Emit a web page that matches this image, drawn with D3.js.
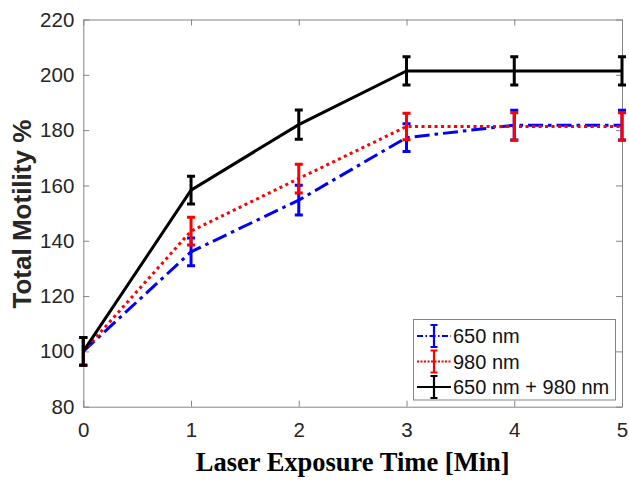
<!DOCTYPE html>
<html>
<head>
<meta charset="utf-8">
<script src="https://cdn.jsdelivr.net/npm/d3@7"></script>
<style>
  body { margin: 0; background: #fff; }
  svg { display: block; }
</style>
</head>
<body>
<div class="canvas"></div>
<script>
// data
const times = [0, 1, 2, 3, 4, 5];
const names = ['650 nm', '980 nm', '650 nm + 980 nm'];
const mean650 = [100, 136, 154.7, 177.3, 181.8, 181.8];
const err650 = [5, 5, 5.4, 5, 5.4, 5.4];
const mean980 = [100, 143.5, 162.5, 181.3, 181.3, 181.3];
const err980 = [5, 5, 5.2, 4.8, 5, 5];
const meanBoth = [100, 158.3, 182, 201.4, 201.4, 201.4];
const errBoth = [5, 5, 5.3, 5.1, 5.1, 5.1];
const yTicks = [80, 100, 120, 140, 160, 180, 200, 220];
const xTicks = [0, 1, 2, 3, 4, 5];

const series = [
    { name: names[0], mean: mean650, err: err650, color: '#0000ff', dash: '15,5,3.5,5', legDash: '6,2.5,1.5,2.5' },
    { name: names[1], mean: mean980, err: err980, color: '#ff0000', dash: '3,3.5', legDash: '2,1.5' },
    { name: names[2], mean: meanBoth, err: errBoth, color: '#000000', dash: null, legDash: null }
];

const margin = { top: 19.5, right: 7, bottom: 75.3, left: 83.3 };
const width = 629, height = 482;
const graphWidth = width - margin.left - margin.right;
const graphHeight = height - margin.top - margin.bottom;

const svg = d3.select('.canvas')
    .append('svg')
        .attr('width', width)
        .attr('height', height);

const graph = svg.append('g')
    .attr('transform', `translate(${margin.left}, ${margin.top})`);

// scales
const x = d3.scaleLinear().domain([0, 5]).range([0, graphWidth]);
const y = d3.scaleLinear().domain([80, 220]).range([graphHeight, 0]);

// axes (box with inward ticks)
const styleAxis = g => {
    g.select('.domain').attr('stroke', '#858585').attr('stroke-width', 1);
    g.selectAll('.tick line').attr('stroke', '#858585').attr('stroke-width', 1);
    g.selectAll('text')
        .attr('fill', '#262626')
        .style('font-family', '"Liberation Sans", Arial, sans-serif')
        .style('font-size', '20.5px');
};

graph.append('g')
    .attr('transform', `translate(0, ${graphHeight})`)
    .call(d3.axisBottom(x).tickValues(xTicks).tickFormat(d3.format('d'))
        .tickSizeInner(-6).tickSizeOuter(0).tickPadding(16))
    .call(styleAxis);

graph.append('g')
    .call(d3.axisTop(x).tickValues(xTicks).tickSizeInner(-6).tickSizeOuter(0).tickFormat(''))
    .call(styleAxis);

graph.append('g')
    .call(d3.axisLeft(y).tickValues(yTicks).tickSizeInner(-6).tickSizeOuter(0).tickPadding(9))
    .call(styleAxis);

graph.append('g')
    .attr('transform', `translate(${graphWidth}, 0)`)
    .call(d3.axisRight(y).tickValues(yTicks).tickSizeInner(-6).tickSizeOuter(0).tickFormat(''))
    .call(styleAxis);

// lines + error bars
const line = d3.line()
    .x((d, i) => x(times[i]))
    .y(d => y(d));

const cap = 4;

series.forEach(s => {
    const g = graph.append('g');

    g.append('path')
        .datum(s.mean)
        .attr('fill', 'none')
        .attr('stroke', s.color)
        .attr('stroke-width', 3)
        .attr('stroke-dasharray', s.dash)
        .attr('d', line);

    g.selectAll('.err')
        .data(s.mean.map((m, i) => ({ t: times[i], m, e: s.err[i] })))
        .enter()
        .append('path')
            .attr('class', 'err')
            .attr('fill', 'none')
            .attr('stroke', s.color)
            .attr('stroke-width', 3)
            .attr('d', d => {
                const cx = x(d.t), top = y(d.m + d.e), bot = y(d.m - d.e);
                return `M${cx},${top}V${bot}M${cx - cap},${top}H${cx + cap}M${cx - cap},${bot}H${cx + cap}`;
            });
});

// axis titles
svg.append('text')
    .attr('x', margin.left + graphWidth / 2)
    .attr('y', 471)
    .attr('text-anchor', 'middle')
    .style('font-family', '"Liberation Serif", "Times New Roman", serif')
    .style('font-weight', 'bold')
    .style('font-size', '26.5px')
    .text('Laser Exposure Time [Min]');

svg.append('text')
    .attr('transform', `translate(31, ${margin.top + graphHeight / 2 + 1}) rotate(-90)`)
    .attr('text-anchor', 'middle')
    .attr('fill', '#262626')
    .style('font-family', '"Liberation Sans", Arial, sans-serif')
    .style('font-weight', 'bold')
    .style('font-size', '26px')
    .text('Total Motility %');

// legend
const legend = svg.append('g').attr('transform', 'translate(413.5, 319.5)');

legend.append('rect')
    .attr('width', 202)
    .attr('height', 80.5)
    .attr('fill', '#fff')
    .attr('stroke', '#858585')
    .attr('stroke-width', 1);

const rows = legend.selectAll('.row')
    .data(series)
    .enter()
    .append('g')
        .attr('transform', (d, i) => `translate(0, ${16.5 + i * 25.5})`);

rows.append('line')
    .attr('x1', 3.5).attr('x2', 37.5)
    .attr('stroke', d => d.color)
    .attr('stroke-width', 1.8)
    .attr('stroke-dasharray', d => d.legDash);

rows.append('path')
    .attr('fill', 'none')
    .attr('stroke', d => d.color)
    .attr('stroke-width', 2.2)
    .attr('d', 'M20.5,-11V11M17,-11H24M17,11H24');

rows.append('text')
    .attr('x', 39.5)
    .attr('dy', '0.36em')
    .attr('fill', '#111')
    .style('font-family', '"Liberation Sans", Arial, sans-serif')
    .style('font-size', '20px')
    .text(d => d.name);
</script>
</body>
</html>
